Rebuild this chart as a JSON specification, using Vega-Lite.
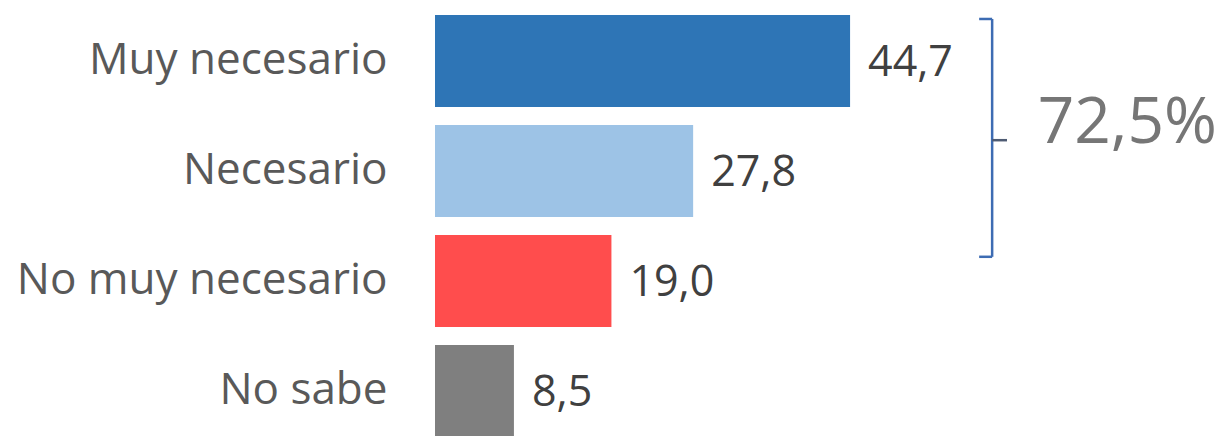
{
  "$schema": "https://vega.github.io/schema/vega-lite/v6.json",
  "width": 650,
  "height": 430,
  "autosize": {"type": "none"},
  "padding": {"left": 435, "top": 6, "right": 139, "bottom": 0},
  "background": "white",
  "config": {"view": {"stroke": null}, "font": "Open Sans"},
  "datasets": {
    "barras": [
      {"categoria": "Muy necesario", "porcentaje": 44.7, "etiqueta": "44,7"},
      {"categoria": "Necesario", "porcentaje": 27.8, "etiqueta": "27,8"},
      {"categoria": "No muy necesario", "porcentaje": 19.0, "etiqueta": "19,0"},
      {"categoria": "No sabe", "porcentaje": 8.5, "etiqueta": "8,5"}
    ],
    "verticales": [
      {"x": 60, "y": 0.118, "y2": 2.28, "tramo": "corchete"}
    ],
    "horizontales": [
      {"x": 58.6, "x2": 60, "y": 0.118, "tramo": "corchete"},
      {"x": 58.6, "x2": 60, "y": 2.28, "tramo": "corchete"},
      {"x": 60, "x2": 61.6, "y": 1.22, "tramo": "marca"}
    ],
    "total": [
      {"x": 64.9, "y": 1.07, "texto": "72,5%"}
    ]
  },
  "layer": [
    {
      "data": {"name": "barras"},
      "encoding": {
        "y": {
          "field": "categoria",
          "type": "nominal",
          "sort": null,
          "scale": {"range": [0, 440], "paddingInner": 0.1636, "paddingOuter": 0.0818},
          "axis": {
            "title": null,
            "domain": false,
            "ticks": false,
            "labelPadding": 48,
            "labelFont": "Open Sans",
            "labelFontSize": 44,
            "labelColor": "#595959",
            "labelLimit": 600
          }
        },
        "x": {
          "field": "porcentaje",
          "type": "quantitative",
          "scale": {"domain": [0, 70], "nice": false},
          "axis": null
        }
      },
      "layer": [
        {
          "mark": {"type": "bar"},
          "encoding": {
            "color": {
              "field": "categoria",
              "type": "nominal",
              "scale": {
                "domain": ["Muy necesario", "Necesario", "No muy necesario", "No sabe"],
                "range": ["#2E75B6", "#9DC3E6", "#FF4D4D", "#7F7F7F"]
              },
              "legend": null
            }
          }
        },
        {
          "mark": {"type": "text", "align": "left", "baseline": "middle", "dx": 18, "dy": 2, "fontSize": 43, "color": "#404040", "font": "Open Sans"},
          "encoding": {"text": {"field": "etiqueta"}}
        }
      ]
    },
    {
      "data": {"name": "verticales"},
      "mark": {"type": "rule", "strokeWidth": 2.5},
      "encoding": {
        "x": {"field": "x", "type": "quantitative", "scale": {"domain": [0, 70], "nice": false}},
        "y": {"field": "y", "type": "quantitative", "scale": {"domain": [0, 4], "range": [0, 440], "nice": false, "zero": false}, "axis": null},
        "y2": {"field": "y2"},
        "color": {
          "field": "tramo",
          "type": "nominal",
          "scale": {"domain": ["corchete", "marca"], "range": ["#3D6CB3", "#4E5B73"]},
          "legend": null
        }
      }
    },
    {
      "data": {"name": "horizontales"},
      "mark": {"type": "rule", "strokeWidth": 2.5},
      "encoding": {
        "x": {"field": "x", "type": "quantitative", "scale": {"domain": [0, 70], "nice": false}},
        "x2": {"field": "x2"},
        "y": {"field": "y", "type": "quantitative", "scale": {"domain": [0, 4], "range": [0, 440], "nice": false, "zero": false}, "axis": null},
        "color": {
          "field": "tramo",
          "type": "nominal",
          "scale": {"domain": ["corchete", "marca"], "range": ["#3D6CB3", "#4E5B73"]},
          "legend": null
        }
      }
    },
    {
      "data": {"name": "total"},
      "mark": {"type": "text", "align": "left", "baseline": "middle", "fontSize": 64, "color": "#767676", "font": "Open Sans"},
      "encoding": {
        "x": {"field": "x", "type": "quantitative", "scale": {"domain": [0, 70], "nice": false}},
        "y": {"field": "y", "type": "quantitative", "scale": {"domain": [0, 4], "range": [0, 440], "nice": false, "zero": false}, "axis": null},
        "text": {"field": "texto"}
      }
    }
  ],
  "resolve": {"scale": {"y": "independent", "color": "independent"}}
}
